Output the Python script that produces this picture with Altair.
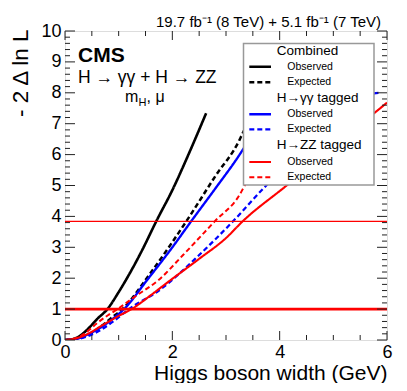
import altair as alt
import pandas as pd

# ---------------- data ----------------
comb_obs_x = [0, 0.15, 0.3, 0.45, 0.6, 0.79, 1.0, 1.22, 1.45, 1.70, 2.0, 2.3, 2.63]
comb_obs_y = [0, 0.03, 0.16, 0.40, 0.68, 1.0, 1.55, 2.2, 2.95, 3.84, 4.85, 6.0, 7.34]

comb_exp_x = [0, 0.2, 0.45, 0.66, 0.87, 1.07, 1.59, 2.26, 2.8, 3.25, 3.31, 3.55, 3.75]
comb_exp_y = [0, 0.03, 0.18, 0.43, 0.72, 1.0, 2.16, 3.84, 5.3, 6.47, 6.69, 7.4, 8.0]

gg_obs_x = [0, 0.2, 0.45, 0.69, 0.9, 1.10, 1.53, 2.0, 2.35, 2.8, 3.25, 3.31, 3.65, 4.05]
gg_obs_y = [0, 0.03, 0.2, 0.43, 0.7, 1.0, 1.94, 3.0, 3.84, 4.9, 5.99, 6.15, 7.0, 8.0]

gg_exp_x = [0, 0.2, 0.45, 0.66, 0.9, 1.19, 1.75, 2.5, 3.13, 3.75, 4.5, 5.2, 5.76, 5.85]
gg_exp_y = [0, 0.02, 0.14, 0.32, 0.6, 1.0, 1.6, 2.75, 3.84, 5.0, 6.2, 7.2, 7.98, 8.0]

zz_obs_x = [0, 0.2, 0.45, 0.7, 1.0, 1.24, 1.6, 1.9, 2.51, 3.0, 3.31, 4.13, 5.0, 5.76, 6.0]
zz_obs_y = [0, 0.05, 0.22, 0.48, 0.78, 1.0, 1.45, 1.85, 2.64, 3.3, 3.84, 5.0, 6.25, 7.34, 7.68]

zz_exp_x = [0, 0.2, 0.4, 0.6, 0.8, 0.98, 1.3, 1.75, 2.2, 2.79, 3.25, 3.35, 4.1, 4.9]
zz_exp_y = [0, 0.06, 0.25, 0.55, 0.8, 1.0, 1.4, 1.95, 2.75, 3.84, 4.69, 5.0, 6.5, 8.0]

hline_values = [1.0, 3.84]

series_names = ["comb_obs", "comb_exp", "gg_obs", "gg_exp", "zz_obs", "zz_exp"]
series_colors = ["#000000", "#000000", "#0000ff", "#0000ff", "#ff0000", "#ff0000"]
series_dash = [[1, 0], [5, 3], [1, 0], [5, 3], [1, 0], [5, 3]]
series_width = [2.6, 2, 2, 2, 2, 2]

legend_rows = ["Combined", "Observed", "Expected", "H\u2192\u03b3\u03b3 tagged", "Observed", "Expected",
               "H\u2192ZZ tagged", "Observed", "Expected"]
legend_series = [None, "comb_obs", "comb_exp", None, "gg_obs", "gg_exp", None, "zz_obs", "zz_exp"]

x_major = [0, 2, 4, 6]
x_minor = [v * 0.5 for v in range(13) if v % 4 != 0]
y_major = list(range(11))
y_minor = [v * 0.2 for v in range(51) if v % 5 != 0]

# ---------------- build tables ----------------
rows = []
for name, xs, ys in [("comb_obs", comb_obs_x, comb_obs_y), ("comb_exp", comb_exp_x, comb_exp_y),
                     ("gg_obs", gg_obs_x, gg_obs_y), ("gg_exp", gg_exp_x, gg_exp_y),
                     ("zz_obs", zz_obs_x, zz_obs_y), ("zz_exp", zz_exp_x, zz_exp_y)]:
    for i, (a, b) in enumerate(zip(xs, ys)):
        rows.append({"x": a, "y": b, "series": name, "i": i})
df = pd.DataFrame(rows)

W, H = 322, 309
FONT = "Liberation Sans"

xscale = alt.Scale(domain=[0, 6], nice=False, zero=False)
yscale = alt.Scale(domain=[0, 10], nice=False, zero=False)

xaxis = alt.Axis(values=x_major, format="d", ticks=False, domain=False, grid=False,
                 labelFontSize=18, labelOverlap=False, labelPadding=3, labelColor="black",
                 title="Higgs boson width (GeV)", titleFontSize=21, titleFontWeight="normal",
                 titleX=W, titleY=39, titleAlign="right", titleBaseline="alphabetic",
                 titleColor="black", labelFlush=False)
yaxis = alt.Axis(values=y_major, format="d", ticks=False, domain=False, grid=False,
                 labelFontSize=18, labelOverlap=False, labelPadding=4, labelColor="black",
                 title="- 2 \u0394 ln L", titleFontSize=22.5, titleFontWeight="normal",
                 titleAngle=270, titleX=-38, titleY=-2, titleAlign="right",
                 titleBaseline="alphabetic", titleColor="black", labelFlush=False)

color_scale = alt.Scale(domain=series_names, range=series_colors)
dash_scale = alt.Scale(domain=series_names, range=series_dash)
width_scale = alt.Scale(domain=series_names, range=series_width)

curves = alt.Chart(df).mark_line(clip=True, interpolate="monotone").encode(
    x=alt.X("x:Q", scale=xscale, axis=xaxis),
    y=alt.Y("y:Q", scale=yscale, axis=yaxis),
    color=alt.Color("series:N", scale=color_scale, legend=None),
    strokeDash=alt.StrokeDash("series:N", scale=dash_scale, legend=None),
    strokeWidth=alt.StrokeWidth("series:N", scale=width_scale, legend=None),
    order=alt.Order("i:Q"),
)

hdf = pd.DataFrame({"y": hline_values, "w": [2.6, 1.2]})
hlines = alt.Chart(hdf).mark_rule(color="#ff0000").encode(
    y=alt.Y("y:Q", scale=yscale, axis=yaxis),
    strokeWidth=alt.StrokeWidth("w:Q", scale=None),
)

# tick marks (inside, on all four sides)
tick_color = "#222222"
def yticks(vals, length):
    d = pd.DataFrame({"y": vals})
    left = alt.Chart(d).mark_rule(color=tick_color, strokeWidth=1).encode(
        y=alt.Y("y:Q", scale=yscale, axis=yaxis), x=alt.value(0), x2=alt.value(length))
    right = alt.Chart(d).mark_rule(color=tick_color, strokeWidth=1).encode(
        y=alt.Y("y:Q", scale=yscale, axis=yaxis), x=alt.value(W - length), x2=alt.value(W))
    return left + right

def xticks(vals, length):
    d = pd.DataFrame({"x": vals})
    bottom = alt.Chart(d).mark_rule(color=tick_color, strokeWidth=1).encode(
        x=alt.X("x:Q", scale=xscale, axis=xaxis), y=alt.value(H - length), y2=alt.value(H))
    top = alt.Chart(d).mark_rule(color=tick_color, strokeWidth=1).encode(
        x=alt.X("x:Q", scale=xscale, axis=xaxis), y=alt.value(0), y2=alt.value(length))
    return bottom + top

ticks = yticks(y_major, 10) + yticks(y_minor, 5) + xticks(x_major, 9) + xticks(x_minor, 5)

# legend box
LX0, LX1, LY0, LY1 = 178.5, 309, 12.5, 154
legend_box = alt.Chart(pd.DataFrame({"a": [0]})).mark_rect(
    fill="white", stroke="#999999", strokeWidth=1.5).encode(
    x=alt.value(LX0), x2=alt.value(LX1), y=alt.value(LY0), y2=alt.value(LY1))

row_y = [20, 35.7, 51.3, 66.7, 83.3, 98.3, 114, 131, 146.3]
head_rows, entry_rows, line_rows = [], [], []
for lbl, s, yy in zip(legend_rows, legend_series, row_y):
    if s is None:
        head_rows.append({"t": lbl, "px": 211.7, "py": yy})
    else:
        entry_rows.append({"t": lbl, "px": 222.3, "py": yy})
        line_rows.append({"series": s, "px": 184.3, "px2": 206, "py": yy})

heads = alt.Chart(pd.DataFrame(head_rows)).mark_text(
    align="left", baseline="middle", fontSize=13.5, font=FONT, color="black").encode(
    x=alt.X("px:Q", scale=None), y=alt.Y("py:Q", scale=None), text="t:N")
entries = alt.Chart(pd.DataFrame(entry_rows)).mark_text(
    align="left", baseline="middle", fontSize=10.5, font=FONT, color="black").encode(
    x=alt.X("px:Q", scale=None), y=alt.Y("py:Q", scale=None), text="t:N")
leg_lines = alt.Chart(pd.DataFrame(line_rows)).mark_rule().encode(
    x=alt.X("px:Q", scale=None), x2="px2:Q", y=alt.Y("py:Q", scale=None),
    color=alt.Color("series:N", scale=color_scale, legend=None),
    strokeDash=alt.StrokeDash("series:N", scale=dash_scale, legend=None),
    strokeWidth=alt.StrokeWidth("series:N", scale=width_scale, legend=None),
)

# annotations
def txt(t, x, y, size, weight="normal", align="left"):
    return alt.Chart(pd.DataFrame({"t": [t]})).mark_text(
        align=align, baseline="alphabetic", fontSize=size, fontWeight=weight,
        font=FONT, color="black").encode(x=alt.value(x), y=alt.value(y), text="t:N")

annots = (
    txt("CMS", 13, 31, 21, "bold")
    + txt("H \u2192 \u03b3\u03b3 + H \u2192 ZZ", 13, 52.3, 17.5)
    + txt("m", 60, 70.7, 16)
    + txt("H", 73.5, 75, 11)
    + txt(", \u03bc", 81.5, 70.7, 16)
    + txt("19.7 fb\u207b\u00b9 (8 TeV) +  5.1 fb\u207b\u00b9 (7 TeV)", 316, -4.5, 15, align="right")
)

chart = alt.layer(
    curves, hlines, ticks, legend_box, leg_lines, heads, entries, annots
).properties(
    width=W, height=H,
    padding={"left": 57, "top": 23, "right": 12, "bottom": 43},
    autosize=alt.AutoSizeParams(type="none"),
).configure_view(stroke="black", strokeWidth=1.2).configure(font=FONT)

chart.save("out.html", embed_options={"renderer": "svg", "actions": False})
